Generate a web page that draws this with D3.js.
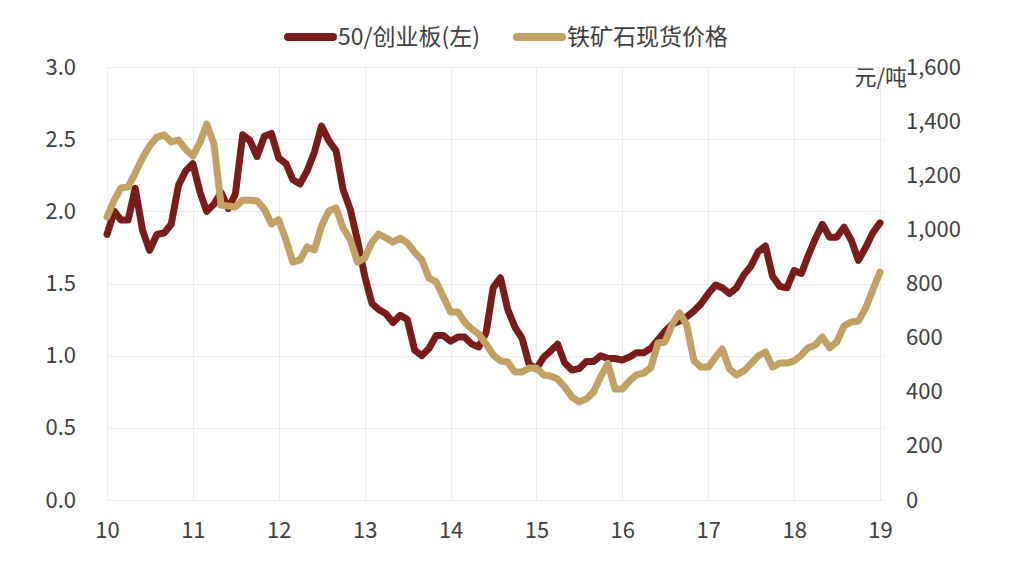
<!DOCTYPE html>
<html>
<head>
<meta charset="utf-8">
<script src="https://cdn.jsdelivr.net/npm/d3@7"></script>
<style>
	body { margin: 0; background: #fff; }
	svg text { font-family: "Noto Sans CJK SC", "Noto Sans", sans-serif; fill: #404040; }
</style>
</head>
<body>
<svg id="chart" width="1009" height="566"></svg>
<script>
// monthly, Jan 2010 .. Jan 2019
var start = new Date(2010, 0, 1), end = new Date(2019, 0, 1);
var months = d3.timeMonth.range(start, new Date(2019, 0, 2));

// 50/创业板 ratio (left axis)
var ratio = [
	1.84, 2.00, 1.94, 1.94, 2.16, 1.87, 1.73, 1.84, 1.85, 1.91,
	2.18, 2.28, 2.33, 2.13, 2.00, 2.05, 2.13, 2.02, 2.12, 2.53,
	2.49, 2.38, 2.52, 2.54, 2.37, 2.33, 2.22, 2.19, 2.28, 2.41,
	2.59, 2.49, 2.42, 2.15, 2.01, 1.80, 1.55, 1.36, 1.32, 1.29,
	1.23, 1.28, 1.25, 1.04, 1.00, 1.05, 1.14, 1.14, 1.10, 1.13,
	1.13, 1.08, 1.06, 1.16, 1.47, 1.54, 1.32, 1.20, 1.12, 0.94,
	0.91, 0.99, 1.03, 1.08, 0.95, 0.90, 0.91, 0.96, 0.96, 1.00,
	0.98, 0.98, 0.97, 0.99, 1.02, 1.02, 1.05, 1.11, 1.17, 1.22,
	1.24, 1.27, 1.31, 1.36, 1.43, 1.49, 1.47, 1.43, 1.47, 1.56,
	1.62, 1.72, 1.76, 1.55, 1.48, 1.47, 1.59, 1.57, 1.69, 1.81,
	1.91, 1.82, 1.82, 1.89, 1.80, 1.66, 1.75, 1.85, 1.92
];

// 铁矿石现货价格, 元/吨 (right axis)
var ore = [
	1046, 1109, 1153, 1157, 1208, 1264, 1308, 1341, 1349, 1323,
	1330, 1297, 1271, 1323, 1389, 1315, 1090, 1086, 1083, 1108,
	1108, 1105, 1075, 1020, 1035, 961, 879, 887, 935, 924,
	1012, 1068, 1079, 1005, 961, 879, 894, 953, 983, 968,
	953, 968, 950, 916, 887, 820, 806, 750, 695, 695,
	658, 632, 613, 576, 536, 514, 510, 473, 473, 488,
	488, 462, 458, 447, 418, 381, 362, 373, 399, 455,
	505, 410, 410, 440, 462, 469, 488, 580, 584, 650,
	691, 647, 514, 491, 491, 528, 558, 484, 462, 477,
	503, 532, 547, 491, 506, 506, 514, 536, 562, 573,
	602, 562, 584, 643, 658, 661, 709, 776, 842
];

var leftTicks = [0, 0.5, 1.0, 1.5, 2.0, 2.5, 3.0];
var rightTicks = [0, 200, 400, 600, 800, 1000, 1200, 1400, 1600];
var seriesNames = ["50/创业板(左)", "铁矿石现货价格"];
var colors = ["#7a1d1a", "#c3a064"];

var svg = d3.select("#chart");
var pLeft = 107, pRight = 880, pTop = 67, pBottom = 500;

var x = d3.scaleTime().domain([start, end]).range([pLeft, pRight]);
var yL = d3.scaleLinear().domain([0, 3]).range([pBottom, pTop]);
var yR = d3.scaleLinear().domain([0, 1600]).range([pBottom, pTop]);

// grid
var grid = svg.append("g").attr("stroke", "#ececec").attr("stroke-width", 1);
grid.selectAll("line.h").data(leftTicks).enter().append("line")
	.attr("x1", pLeft).attr("x2", pRight + 5)
	.attr("y1", function(d){ return Math.round(yL(d)) + 0.5; })
	.attr("y2", function(d){ return Math.round(yL(d)) + 0.5; });
grid.selectAll("line.v").data(x.ticks(d3.timeYear.every(1))).enter().append("line")
	.attr("x1", function(d){ return Math.round(x(d)) + 0.5; })
	.attr("x2", function(d){ return Math.round(x(d)) + 0.5; })
	.attr("y1", pTop).attr("y2", pBottom);

// axes (text only)
var axL = svg.append("g").attr("transform", "translate(" + (pLeft - 31) + ",0)")
	.call(d3.axisLeft(yL).tickValues(leftTicks).tickFormat(d3.format(".1f")).tickSize(0).tickPadding(0));
var axR = svg.append("g").attr("transform", "translate(" + (pRight + 26) + ",0)")
	.call(d3.axisRight(yR).tickValues(rightTicks).tickFormat(d3.format(",")).tickSize(0).tickPadding(0));
var axB = svg.append("g").attr("transform", "translate(0," + (pBottom + 22) + ")")
	.call(d3.axisBottom(x).ticks(d3.timeYear.every(1)).tickFormat(d3.timeFormat("%y")).tickSize(0).tickPadding(0));
[axL, axR, axB].forEach(function(a){
	a.select(".domain").remove();
	a.selectAll("text").style("font-size", "22px").attr("fill", "#404040");
});

svg.append("text").attr("x", 907).attr("y", 85).attr("text-anchor", "end")
	.style("font-size", "22px").text("元/吨");

// lines
var lineL = d3.line().x(function(d, i){ return x(months[i]); }).y(function(d){ return yL(d); });
var lineR = d3.line().x(function(d, i){ return x(months[i]); }).y(function(d){ return yR(d); });

svg.append("path").datum(ratio).attr("d", lineL)
	.attr("fill", "none").attr("stroke", colors[0]).attr("stroke-width", 7)
	.attr("stroke-linejoin", "round").attr("stroke-linecap", "round");
svg.append("path").datum(ore).attr("d", lineR)
	.attr("fill", "none").attr("stroke", colors[1]).attr("stroke-width", 7)
	.attr("stroke-linejoin", "round").attr("stroke-linecap", "round");

// legend
var legendX = [288, 517];
var lg = svg.append("g").selectAll("g").data(seriesNames).enter().append("g")
	.attr("transform", function(d, i){ return "translate(" + legendX[i] + ",37)"; });
lg.append("line").attr("x1", 0).attr("x2", 45).attr("y1", 0).attr("y2", 0)
	.attr("stroke", function(d, i){ return colors[i]; })
	.attr("stroke-width", 8).attr("stroke-linecap", "round");
lg.append("text").attr("x", 50).attr("y", 0).attr("dy", "0.35em")
	.style("font-size", "23px").text(function(d){ return d; });
</script>
</body>
</html>
